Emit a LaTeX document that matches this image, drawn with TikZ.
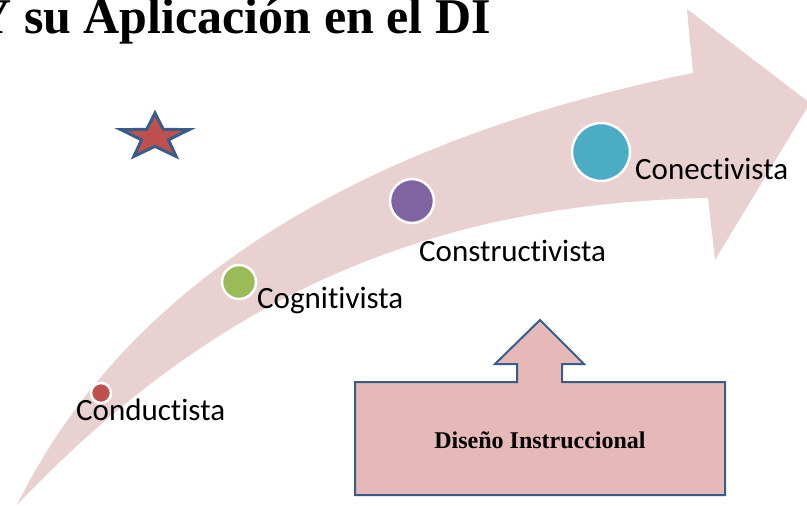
\documentclass[tikz,border=0pt]{standalone}
\usepackage{fontspec}
\setmainfont{Liberation Serif}
\newfontfamily\stagefont[Ligatures=NoCommon]{Carlito}
\usetikzlibrary{positioning}
\definecolor{bandpink}{RGB}{233,208,209}
\definecolor{boxpink}{RGB}{230,184,183}
\definecolor{edgeblue}{RGB}{56,93,138}
\definecolor{redstage}{RGB}{192,80,77}
\definecolor{greenstage}{RGB}{155,187,89}
\definecolor{purplestage}{RGB}{128,100,162}
\definecolor{cyanstage}{RGB}{75,172,198}
\tikzset{
  stage/.style={circle,draw=white,line width=2.5pt,inner sep=0pt},
  stagetext/.style={font=\stagefont\fontsize{31}{37}\selectfont,anchor=base west,inner sep=0pt}
}
\begin{document}
\begin{tikzpicture}[x=1pt,y=-1pt]
\useasboundingbox (0,0) rectangle (807,506);
\clip (0,0) rectangle (807,506);
\fill[bandpink] (17,505) .. controls (140,255) and (410,130) .. (693,73)--(687,9)--(810,103)--(715,260)--(708,198)
  .. controls (460,203) and (235,275) .. (17,505)--cycle;
\node[inner sep=0pt,anchor=base east,font=\bfseries\fontsize{50}{60}\selectfont] (title) at (491,34) {Y su Aplicación en el DI};
\begin{scope}[shift={(155,137)},xscale=1.5]
\filldraw[fill=redstage,draw=edgeblue,line width=3pt,line join=miter] (-90:24)--(-54:9.4)--(-18:24)--(18:9.4)--(54:24)--(90:9.4)--(126:24)--(162:9.4)--(198:24)--(234:9.4)--cycle;
\end{scope}
\node[stage,fill=redstage,minimum size=20pt] (cond) at (101,393) {};
\node[stage,fill=greenstage,minimum size=34pt] (cogn) at (239,282) {};
\node[stage,fill=purplestage,minimum size=44pt] (cons) at (412,201) {};
\node[stage,fill=cyanstage,minimum size=58pt] (conec) at (601,152) {};
\node[stagetext] (condtext) at (76,420) {Conductista};
\node[stagetext] (cogntext) at (257,308) {Cognitivista};
\node[stagetext] (constext) at (419,261) {Constructivista};
\node[stagetext] (conectext) at (635,179) {Conectivista};
\filldraw[fill=boxpink,draw=edgeblue,line width=2pt] (355,382)--(517,382)--(517,364)--(495,364)--(540,320)--(584,364)--(562,364)--(562,382)--(725,382)--(725,495)--(355,495)--cycle;
\node[font=\bfseries\fontsize{24}{29}\selectfont] (dinst) at (540,440) {Diseño Instruccional};
\end{tikzpicture}
\end{document}
